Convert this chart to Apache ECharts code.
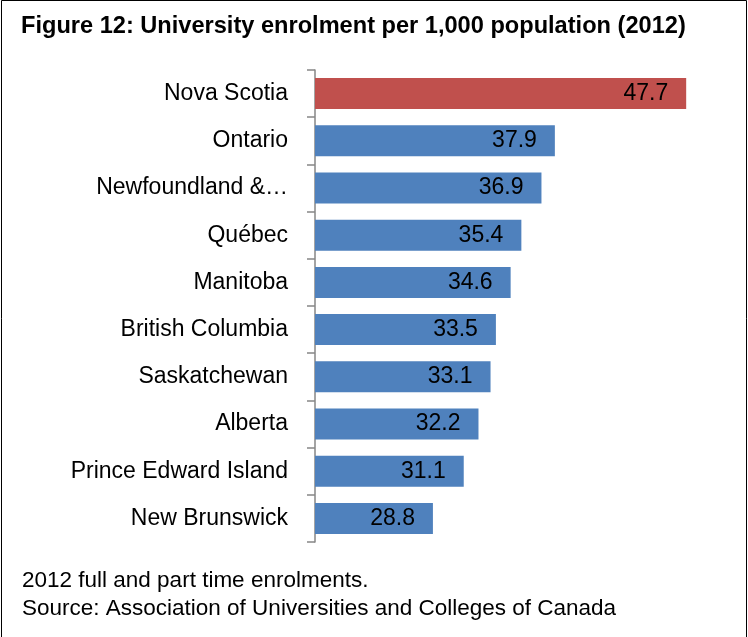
<!DOCTYPE html>
<html>
<head>
<meta charset="utf-8">
<script src="https://cdn.jsdelivr.net/npm/echarts@6/dist/echarts.min.js"></script>
<style>
  html, body { margin: 0; padding: 0; background: #fff; }
  #drew { width: 748px; height: 637px; }
</style>
</head>
<body>
<div id="drew"></div>
<script>
   // provinces, top to bottom as shown
   var provinces = ['Nova Scotia', 'Ontario', 'Newfoundland &\u2026', 'Québec', 'Manitoba',
       'British Columbia', 'Saskatchewan', 'Alberta', 'Prince Edward Island', 'New Brunswick'];
   var enrolment = [47.7, 37.9, 36.9, 35.4, 34.6, 33.5, 33.1, 32.2, 31.1, 28.8];
   var highlighted = 'Nova Scotia';

   var font = 'Liberation Sans';
   var myChart = echarts.init(document.getElementById('drew'));
   var option = {
       backgroundColor: '#fff',
       animation: false,
       textStyle: { fontFamily: font },
       title: {
           text: 'Figure 12: University enrolment per 1,000 population (2012)',
           left: 21,
           top: 14,
           padding: 0,
           textStyle: { fontFamily: font, fontWeight: 'bold', fontSize: 23.6, color: '#000' }
       },
       graphic: [{
           type: 'polyline',
           shape: { points: [[1.5, 637], [1.5, 0.5], [746.5, 0.5], [746.5, 637]] },
           style: { stroke: '#000', lineWidth: 1, fill: null }
       }, {
           type: 'text',
           left: 22,
           top: 567,
           style: {
               text: '2012 full and part time enrolments.\nSource: Association of Universities and Colleges of Canada',
               font: '22.5px "Liberation Sans"',
               lineHeight: 28,
               fill: '#000'
           }
       }],
       grid: { left: 315, right: 31, top: 70, height: 472, containLabel: false },
       xAxis: {
           type: 'value',
           min: 20,
           max: 50,
           show: false
       },
       yAxis: {
           type: 'category',
           inverse: true,
           data: provinces,
           axisLine: { lineStyle: { color: '#868686', width: 1.5 } },
           axisTick: { show: true, length: 8, lineStyle: { color: '#868686', width: 1.5 } },
           axisLabel: { color: '#000', fontSize: 23, margin: 27, fontFamily: font }
       },
       series: [{
           type: 'bar',
           barWidth: 31,
           data: enrolment.map(function (v, i) {
               return {
                   value: v,
                   itemStyle: { color: provinces[i] === highlighted ? '#C0504D' : '#4F81BD' }
               };
           }),
           label: {
               show: true,
               position: 'insideRight',
               distance: 18,
               color: '#000',
               fontSize: 23,
               fontFamily: font,
               formatter: function (p) { return p.value.toFixed(1); }
           }
       }]
   };
   myChart.setOption(option);
</script>
</body>
</html>
